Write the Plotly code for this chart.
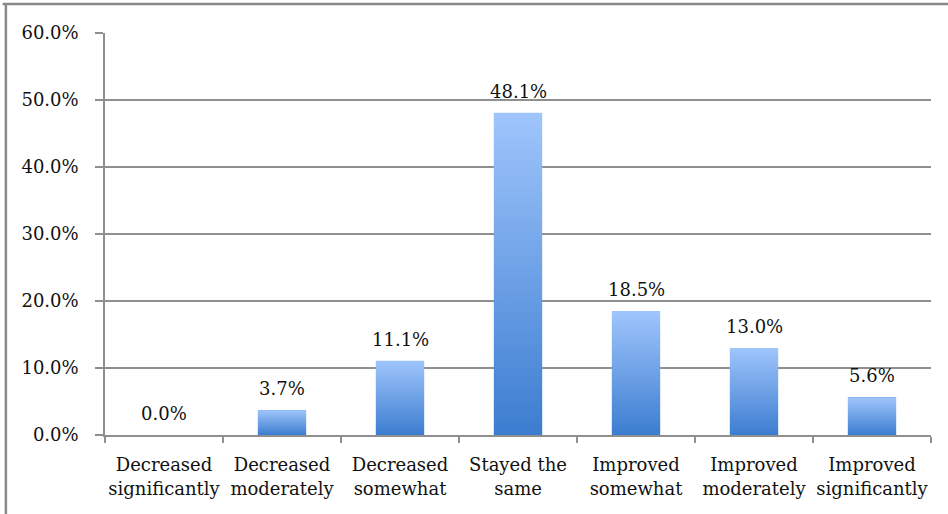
import plotly.graph_objects as go

# Survey response categories and their share of respondents (%)
categories = [
    "Decreased<br>significantly",
    "Decreased<br>moderately",
    "Decreased<br>somewhat",
    "Stayed the<br>same",
    "Improved<br>somewhat",
    "Improved<br>moderately",
    "Improved<br>significantly",
]
shares = [0.0, 3.7, 11.1, 48.1, 18.5, 13.0, 5.6]
y_ticks = [0, 10, 20, 30, 40, 50, 60]

FONT = "DejaVu Serif"
GRID = "#8f8f8f"
BAR_TOP = "#9fc5fc"
BAR_BOTTOM = "#3c7dd0"
BAR_WIDTH = 0.41
TEXT_SIZE = 18

positions = list(range(len(categories)))
boundaries = [p - 0.5 for p in positions] + [positions[-1] + 0.5]

fig = go.Figure()

# Base bars (solid) carrying the values
fig.add_trace(go.Bar(
    x=positions, y=shares, width=BAR_WIDTH,
    marker=dict(color="#6a9fe6", line=dict(width=0)),
    hoverinfo="skip", showlegend=False,
))

# Vertical gradient fill on each bar, drawn from the same values
for p, v in zip(positions, shares):
    if v <= 0:
        continue
    x0, x1 = p - BAR_WIDTH / 2, p + BAR_WIDTH / 2
    fig.add_trace(go.Scatter(
        x=[x0, x1, x1, x0, x0], y=[0, 0, v, v, 0],
        mode="lines", fill="toself", line=dict(width=0),
        fillgradient=dict(
            type="vertical",
            colorscale=[[0, BAR_BOTTOM], [1, BAR_TOP]],
        ),
        hoverinfo="skip", showlegend=False,
    ))

# Value labels above each bar
for p, v in zip(positions, shares):
    fig.add_annotation(
        x=p, y=v, text=f"{v:.1f}%", showarrow=False,
        yanchor="bottom", yshift=9,
        font=dict(family=FONT, size=TEXT_SIZE, color="#111111"),
    )

# Outer frame edges
fig.add_shape(type="line", xref="paper", yref="paper",
              x0=-0.124, x1=1.05, y0=1.072, y1=1.072,
              line=dict(color="#8a8a8a", width=2.5))
fig.add_shape(type="line", xref="paper", yref="paper",
              x0=-0.120, x1=-0.120, y0=-0.3, y1=1.072,
              line=dict(color="#8a8a8a", width=2.5))

fig.update_layout(
    width=948, height=514,
    margin=dict(l=105, r=17, t=33, b=79),
    paper_bgcolor="white", plot_bgcolor="white",
    font=dict(family=FONT, size=TEXT_SIZE, color="#111111"),
    bargap=0,
    xaxis=dict(
        range=[-0.5, len(categories) - 0.5],
        tickvals=positions, ticktext=categories,
        ticks="", showgrid=False, zeroline=False,
        showline=True, linecolor=GRID, linewidth=1.5,
        tickfont=dict(family=FONT, size=TEXT_SIZE, color="#111111"),
        ticklabelstandoff=13,
        minor=dict(tickvals=boundaries, ticks="outside", ticklen=6,
                   tickcolor=GRID, tickwidth=1.5, showgrid=False),
    ),
    yaxis=dict(
        range=[0, 60], tickvals=y_ticks,
        ticktext=[f"{t:.1f}%" for t in y_ticks],
        ticks="outside", ticklen=8, tickcolor=GRID, tickwidth=1.5,
        showgrid=True, gridcolor=GRID, gridwidth=1.5,
        zeroline=False, showline=True, linecolor=GRID, linewidth=1.5,
        tickfont=dict(family=FONT, size=TEXT_SIZE, color="#111111"),
        ticklabelstandoff=13,
    ),
)

fig.write_html("out.html")
